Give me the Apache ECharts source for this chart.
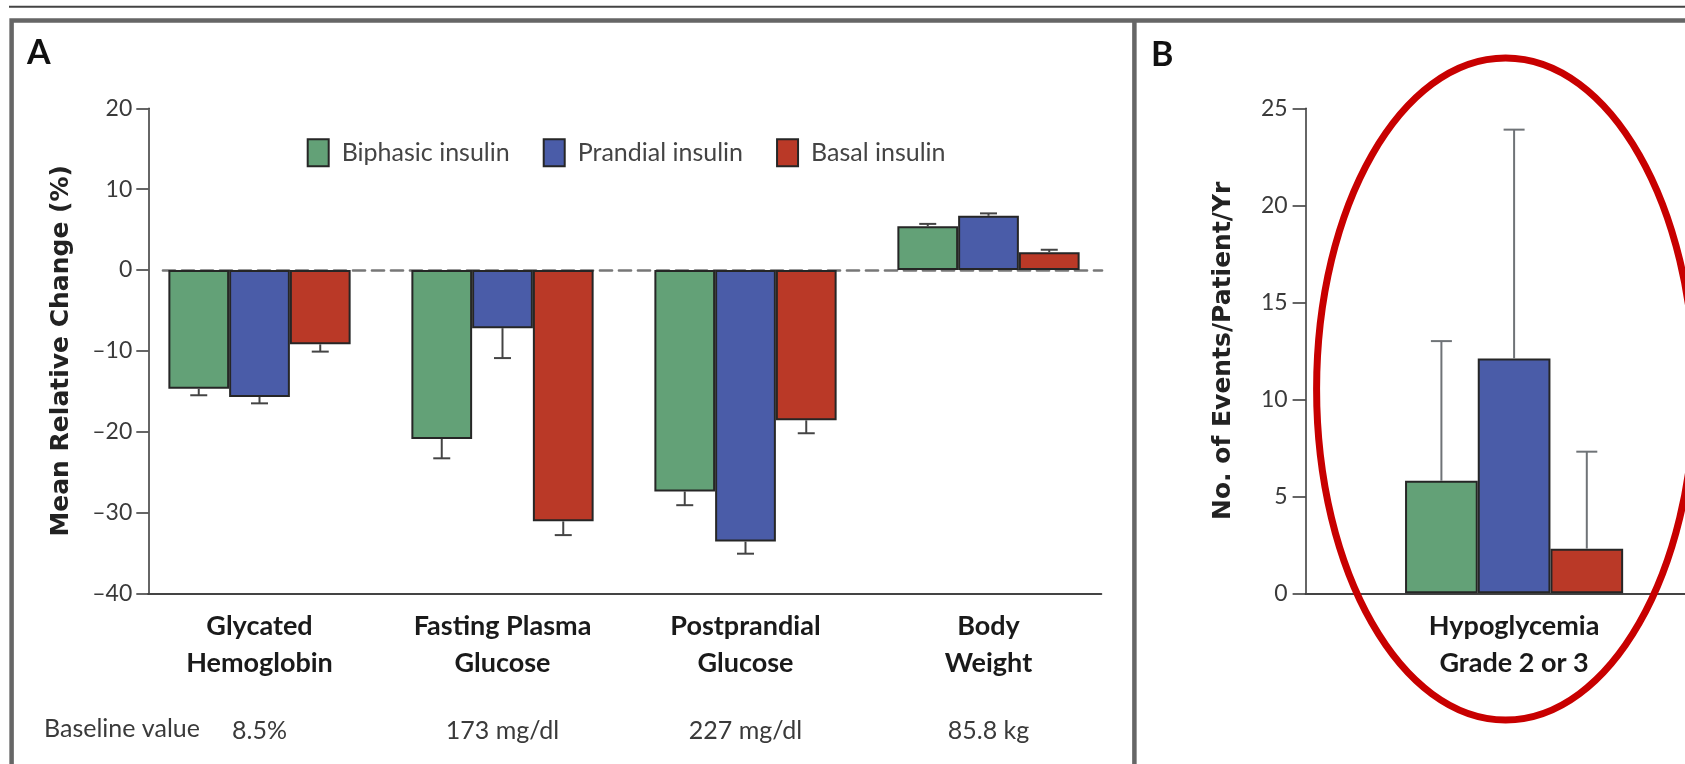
<!DOCTYPE html>
<html>
<head>
<meta charset="utf-8">
<script src="https://cdn.jsdelivr.net/npm/echarts@6/dist/echarts.min.js"></script>
<style>
html,body{margin:0;padding:0;background:#fff;}
#chart{width:1685px;height:764px;}
</style>
</head>
<body>
<div id="chart"></div>
<script>
// ---------- data ----------
const seriesNames = ['Biphasic insulin', 'Prandial insulin', 'Basal insulin'];
const categories = ['Glycated\nHemoglobin', 'Fasting Plasma\nGlucose', 'Postprandial\nGlucose', 'Body\nWeight'];
const baselineLabel = 'Baseline value';
const baselineValues = ['8.5%', '173 mg/dl', '227 mg/dl', '85.8 kg'];
const biphasic = [-14.7, -20.9, -27.4, 5.4];
const biphasicErr = [0.8, 2.4, 1.7, 0.3];
const prandial = [-15.7, -7.2, -33.6, 6.7];
const prandialErr = [0.8, 3.7, 1.5, 0.3];
const basal = [-9.2, -31.1, -18.6, 2.2];
const basalErr = [0.9, 1.7, 1.6, 0.3];
const yTicksA = [-40, -30, -20, -10, 0, 10, 20];

const hypoCategories = ['Hypoglycemia\nGrade 2 or 3'];
const hypoBiphasic = [5.8];
const hypoBiphasicErr = [7.2];
const hypoPrandial = [12.1];
const hypoPrandialErr = [11.8];
const hypoBasal = [2.3];
const hypoBasalErr = [5.0];
const yTicksB = [0, 5, 10, 15, 20, 25];

const titleA = 'Mean Relative Change (%)';
const titleB = 'No. of Events/Patient/Yr';

// ---------- fonts ----------
function fontOK(name) {
  const c = document.createElement('canvas').getContext('2d');
  const s = 'abcdefghijklmnopqrstuvwxyz0123456789ABCDEFG';
  c.font = '40px monospace'; const w1 = c.measureText(s).width;
  c.font = "40px '" + name + "', monospace"; const w2 = c.measureText(s).width;
  c.font = '40px serif'; const w3 = c.measureText(s).width;
  c.font = "40px '" + name + "', serif"; const w4 = c.measureText(s).width;
  return w1 !== w2 || w3 !== w4;
}
const NARROW = fontOK('Liberation Sans Narrow');
const F = NARROW ? "'Liberation Sans Narrow', Lato, sans-serif" : "Lato, sans-serif";
const FS_TICK = NARROW ? 27 : 23;
const FS_CAT = NARROW ? 29 : 27;
const FS_TXT = NARROW ? 29 : 25;
const FS_PANEL = NARROW ? 38 : 34;
const TITLE_FONT = "'DejaVu Sans', sans-serif";

const colors = ['#63a177', '#4a5ca8', '#ba3927'];
const border = '#262626';
const dash = v => v < 0 ? '\u2013' + Math.abs(v) : String(v);

// ---------- layout ----------
const gapA = 0.25, gapB = 0.477;
const gridTop = 108.3, gridH = 485;

function errRender(pos, n, gap, capW, color) {
  return function (params, api) {
    const i = api.value(0), v = api.value(1), e = api.value(2);
    const band = api.size([1, 0])[0];
    const bw = band * (1 - gap) / n;
    const p0 = api.coord([i, v]);
    const p1 = api.coord([i, v + (v < 0 ? -e : e)]);
    const x = p0[0] + (pos - (n - 1) / 2) * bw;
    const st = { stroke: color, lineWidth: 2 };
    return {
      type: 'group',
      children: [
        { type: 'line', shape: { x1: x, y1: p0[1], x2: x, y2: p1[1] }, style: st },
        { type: 'line', shape: { x1: x - capW / 2, y1: p1[1], x2: x + capW / 2, y2: p1[1] }, style: st }
      ]
    };
  };
}

const valsA = [biphasic, prandial, basal];
const errsA = [biphasicErr, prandialErr, basalErr];
const valsB = [hypoBiphasic, hypoPrandial, hypoBasal];
const errsB = [hypoBiphasicErr, hypoPrandialErr, hypoBasalErr];

const series = [];
seriesNames.forEach((nm, k) => {
  series.push({
    name: nm, type: 'bar', xAxisIndex: 0, yAxisIndex: 0,
    data: valsA[k], barGap: '0%', barCategoryGap: (gapA * 100) + '%',
    itemStyle: { color: colors[k], borderColor: border, borderWidth: 2 },
    z: 2
  });
});
seriesNames.forEach((nm, k) => {
  series.push({
    name: 'errA' + k, type: 'custom', xAxisIndex: 0, yAxisIndex: 0,
    data: valsA[k].map((v, i) => [i, v, errsA[k][i]]),
    encode: { x: 0, y: 1 },
    renderItem: errRender(k, 3, gapA, 17, '#444'), z: 3
  });
});
seriesNames.forEach((nm, k) => {
  series.push({
    name: nm, type: 'bar', xAxisIndex: 4, yAxisIndex: 3,
    data: valsB[k], barGap: '0%', barCategoryGap: (gapB * 100) + '%',
    itemStyle: { color: colors[k], borderColor: border, borderWidth: 2 },
    z: 2
  });
});
seriesNames.forEach((nm, k) => {
  series.push({
    name: 'errB' + k, type: 'custom', xAxisIndex: 4, yAxisIndex: 3,
    data: valsB[k].map((v, i) => [i, v, errsB[k][i]]),
    encode: { x: 0, y: 1 },
    renderItem: errRender(k, 3, gapB, 21, '#6f7377'), z: 3
  });
});

const noLine = { show: false };
const option = {
  animation: false,
  backgroundColor: '#ffffff',
  textStyle: { fontFamily: F },
  legend: {
    data: seriesNames, left: 306.7, top: 138.3, orient: 'horizontal', padding: 0,
    icon: 'rect', itemWidth: 21, itemHeight: 27, itemGap: 33, selectedMode: false,
    textStyle: { fontFamily: F, fontSize: FS_TXT, color: '#444', padding: [0, 0, 0, 8] }
  },
  grid: [
    { left: 138, top: gridTop, width: 972, height: gridH, outerBoundsMode: 'none', containLabel: false },
    { left: 148.3, top: gridTop, width: 953, height: gridH, outerBoundsMode: 'none', containLabel: false },
    { left: 163, top: gridTop, width: 939, height: gridH, outerBoundsMode: 'none', containLabel: false },
    { left: 1305.6, top: gridTop, width: 417, height: gridH, outerBoundsMode: 'none', containLabel: false }
  ],
  xAxis: [
    { type: 'category', gridIndex: 0, data: categories, position: 'bottom',
      axisLine: noLine, axisTick: noLine, splitLine: noLine,
      axisLabel: { interval: 0, margin: 14, fontFamily: F, fontSize: FS_CAT, fontWeight: 'bold', color: '#1a1a1a', lineHeight: 37 } },
    { type: 'category', gridIndex: 0, data: baselineValues, position: 'bottom',
      axisLine: noLine, axisTick: noLine, splitLine: noLine,
      axisLabel: { interval: 0, margin: 119, fontFamily: F, fontSize: FS_TXT, color: '#3a3a3a', lineHeight: 37 } },
    { type: 'value', gridIndex: 1, min: 0, max: 1, position: 'bottom',
      axisLine: { show: true, onZero: false, lineStyle: { color: '#444', width: 2 } },
      axisTick: noLine, axisLabel: noLine, splitLine: noLine },
    { type: 'value', gridIndex: 2, min: 0, max: 1,
      axisLine: { show: true, onZero: true, lineStyle: { color: '#777', width: 2.7, type: [12, 7] } },
      axisTick: noLine, axisLabel: noLine, splitLine: noLine },
    { type: 'category', gridIndex: 3, data: hypoCategories, position: 'bottom',
      axisLine: { show: true, onZero: false, lineStyle: { color: '#444', width: 2 } },
      axisTick: noLine, splitLine: noLine,
      axisLabel: { interval: 0, margin: 14, fontFamily: F, fontSize: FS_CAT, fontWeight: 'bold', color: '#1a1a1a', lineHeight: 37 } }
  ],
  yAxis: [
    { type: 'value', gridIndex: 0, min: yTicksA[0], max: yTicksA[yTicksA.length - 1], show: false },
    { type: 'value', gridIndex: 1, min: yTicksA[0], max: yTicksA[yTicksA.length - 1], interval: 10,
      name: titleA, nameLocation: 'middle', nameGap: 74, nameRotate: 90,
      nameTextStyle: { fontFamily: TITLE_FONT, fontWeight: 'bold', fontSize: 25, color: '#222' },
      axisLine: { show: true, onZero: false, lineStyle: { color: '#333', width: 1.5 } },
      axisTick: { show: true, length: 12, lineStyle: { color: '#333', width: 1.5 } },
      axisLabel: { margin: 16, fontFamily: F, fontSize: FS_TICK, color: '#3a3a3a', formatter: dash },
      splitLine: noLine },
    { type: 'value', gridIndex: 2, min: yTicksA[0], max: yTicksA[yTicksA.length - 1], show: false },
    { type: 'value', gridIndex: 3, min: yTicksB[0], max: yTicksB[yTicksB.length - 1], interval: 5,
      name: titleB, nameLocation: 'middle', nameGap: 70, nameRotate: 90,
      nameTextStyle: { fontFamily: TITLE_FONT, fontWeight: 'bold', fontSize: 25, color: '#222' },
      axisLine: { show: true, onZero: false, lineStyle: { color: '#333', width: 1.5 } },
      axisTick: { show: true, length: 13, lineStyle: { color: '#333', width: 1.5 } },
      axisLabel: { margin: 18, fontFamily: F, fontSize: FS_TICK, color: '#3a3a3a', formatter: dash },
      splitLine: noLine }
  ],
  graphic: [
    { type: 'line', shape: { x1: 9, y1: 6.7, x2: 1685, y2: 6.7 }, style: { stroke: '#444', lineWidth: 2 }, z: 10 },
    { type: 'polyline', shape: { points: [[11.6, 764], [11.6, 20.5], [1690, 20.5]] }, style: { stroke: '#666', lineWidth: 4.5, fill: null }, z: 10 },
    { type: 'line', shape: { x1: 1134.4, y1: 20.5, x2: 1134.4, y2: 764 }, style: { stroke: '#666', lineWidth: 4.5 }, z: 10 },
    { type: 'text', x: 27, y: 53, style: { text: 'A', font: 'bold ' + FS_PANEL + 'px ' + F, fill: '#111', verticalAlign: 'middle' }, z: 10 },
    { type: 'text', x: 1151, y: 55, style: { text: 'B', font: 'bold ' + FS_PANEL + 'px ' + F, fill: '#111', verticalAlign: 'middle' }, z: 10 },
    { type: 'text', x: 44, y: 729, style: { text: baselineLabel, font: FS_TXT + 'px ' + F, fill: '#3a3a3a', verticalAlign: 'middle' }, z: 10 },
    { type: 'ellipse', shape: { cx: 1505.6, cy: 389, rx: 189, ry: 331 }, style: { stroke: '#c80000', lineWidth: 7, fill: null }, z: 20 }
  ],
  series: series
};

const chart = echarts.init(document.getElementById('chart'), null, { renderer: 'canvas' });
chart.setOption(option);
</script>
</body>
</html>
